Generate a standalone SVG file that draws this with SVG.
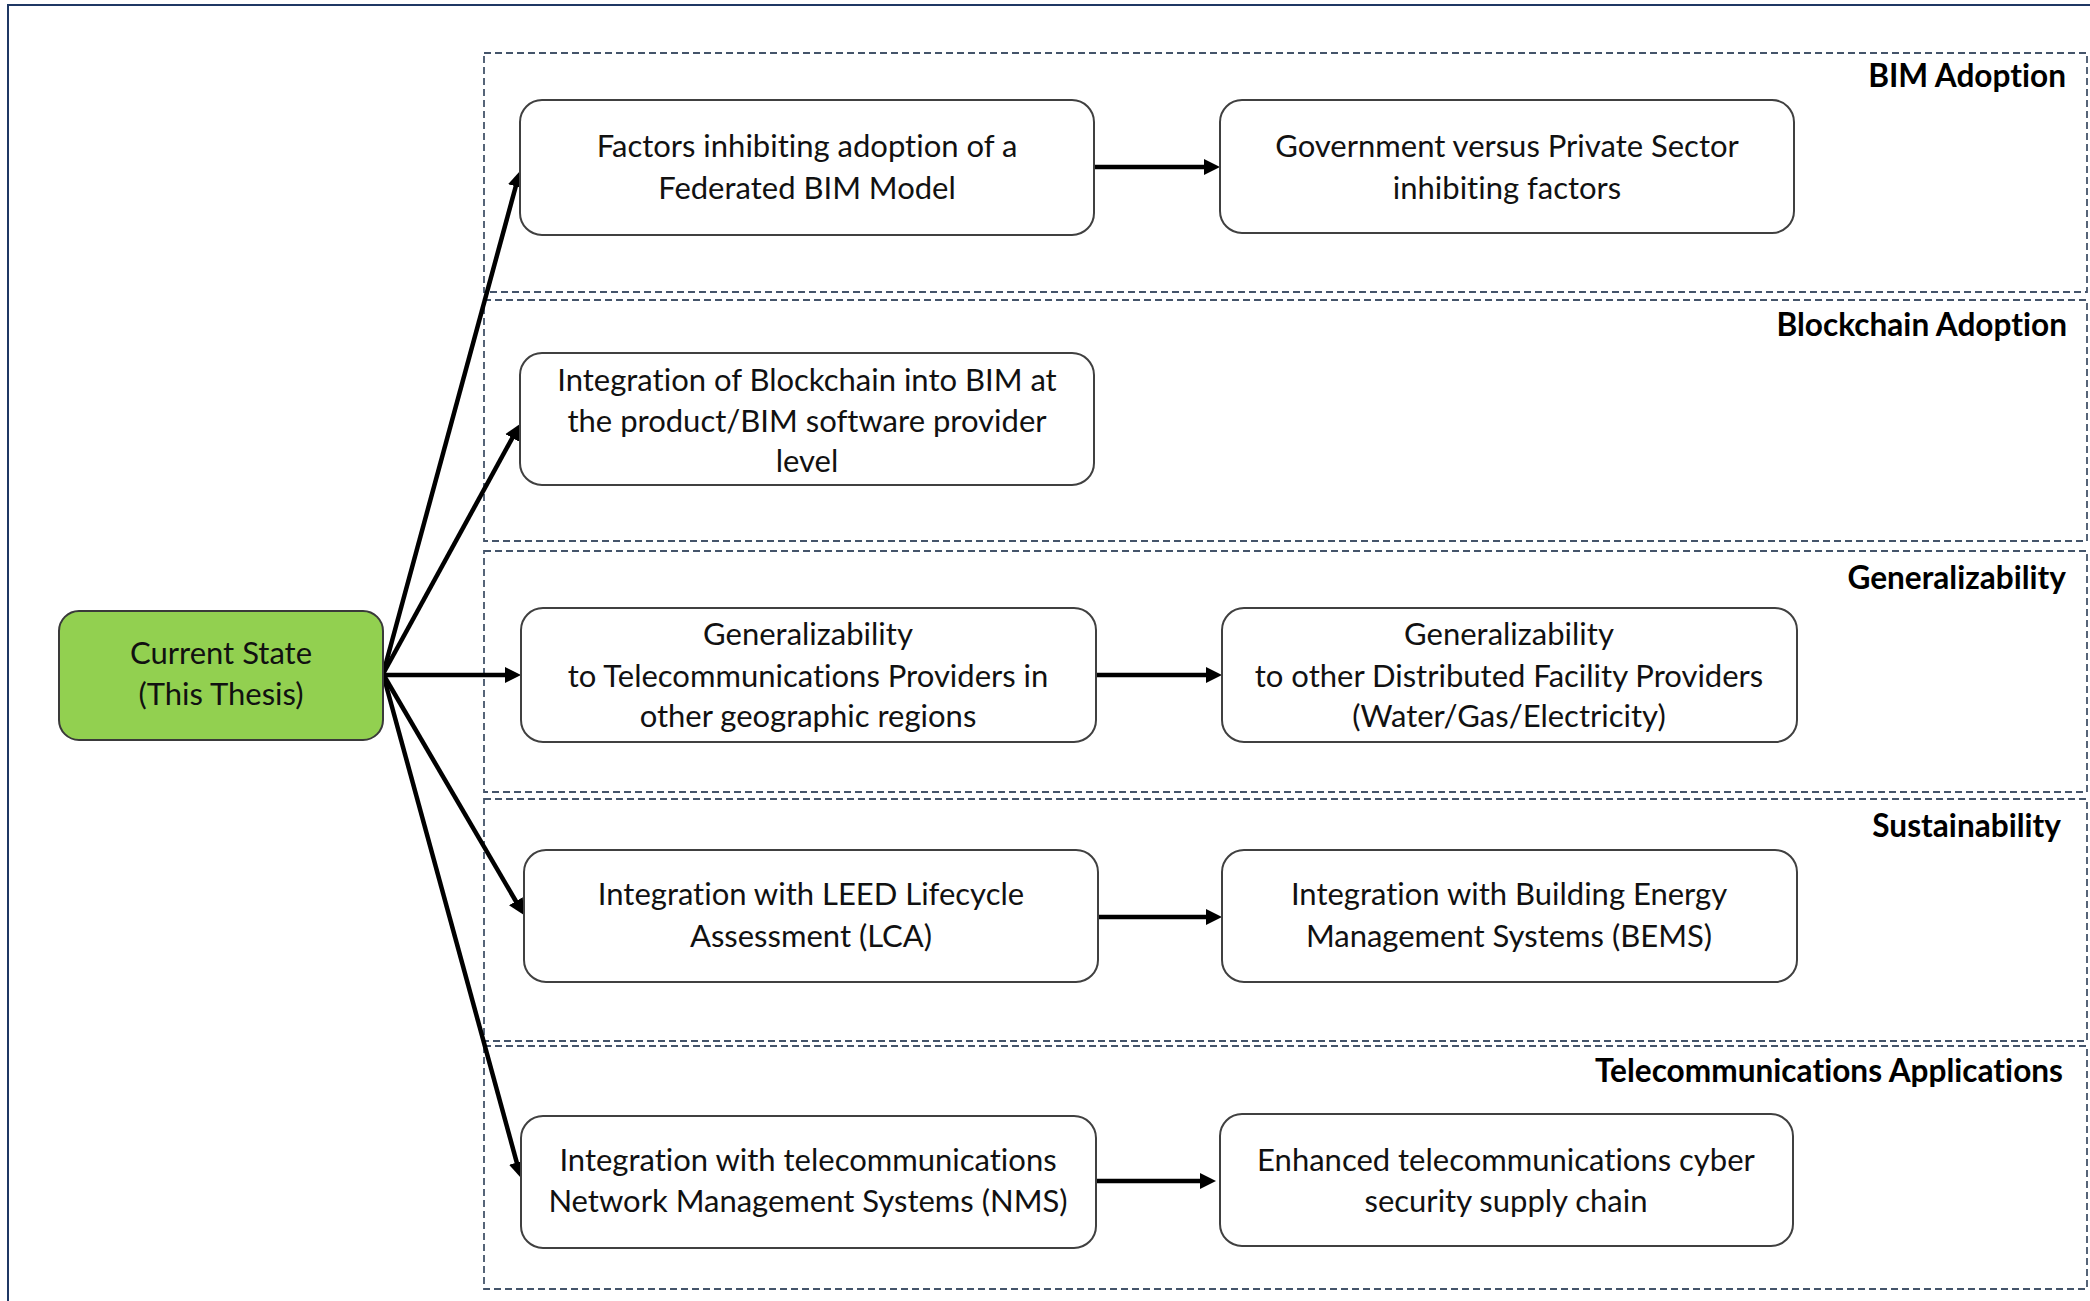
<svg xmlns="http://www.w3.org/2000/svg" width="2090" height="1301" viewBox="0 0 2090 1301">
  <style>
    .frame { fill: none; stroke: #1f3864; stroke-width: 2; }
    .section { fill: none; stroke: #44546a; stroke-width: 1.8; stroke-dasharray: 7 4; }
    .box { fill: #ffffff; stroke: #404040; stroke-width: 2; }
    .start { fill: #92d050; stroke: #3a3a3a; stroke-width: 2; }
    .txt { font-family: Lato, "Open Sans", sans-serif; font-size: 31px; fill: #111111; text-anchor: middle; font-variant-ligatures: none; }
    .lbl { font-family: Lato, "Open Sans", sans-serif; font-size: 31.6px; font-weight: bold; fill: #000000; text-anchor: end; font-variant-ligatures: none; }
    .conn { stroke: #000000; stroke-width: 4.5; fill: none; marker-end: url(#arrow); }
  </style>
  <defs>
    <marker id="arrow" markerUnits="userSpaceOnUse" markerWidth="18" markerHeight="18" refX="5" refY="9" orient="auto">
      <path d="M0,1 L16,9 L0,17 Z" fill="#000000"/>
    </marker>
  </defs>

  <rect width="2090" height="1301" fill="#ffffff"/>
  <rect class="frame" x="8" y="5" width="2110" height="1330"/>

  <!-- category bands -->
  <g id="sections">
    <rect class="section" x="484" y="53" width="1603" height="239"/>
    <rect class="section" x="484" y="300" width="1603" height="241"/>
    <rect class="section" x="484" y="551" width="1603" height="241"/>
    <rect class="section" x="484" y="799" width="1603" height="242"/>
    <rect class="section" x="484" y="1046" width="1603" height="243"/>
    <text class="lbl" x="2066" y="87">BIM Adoption</text>
    <text class="lbl" x="2067" y="336">Blockchain Adoption</text>
    <text class="lbl" x="2066" y="589">Generalizability</text>
    <text class="lbl" x="2061" y="837">Sustainability</text>
    <text class="lbl" x="2063" y="1082">Telecommunications Applications</text>
  </g>

  <!-- connectors -->
  <g id="connectors">
    <line class="conn" x1="383" y1="674" x2="517.1" y2="181.5"/>
    <line class="conn" x1="383" y1="674" x2="514.7" y2="433.6"/>
    <line class="conn" x1="383" y1="675" x2="510" y2="675"/>
    <line class="conn" x1="383" y1="674" x2="518.4" y2="905.5"/>
    <line class="conn" x1="383" y1="674" x2="518.1" y2="1167.4"/>
    <line class="conn" x1="1094" y1="167" x2="1209" y2="167"/>
    <line class="conn" x1="1096" y1="675" x2="1211" y2="675"/>
    <line class="conn" x1="1098" y1="917" x2="1211" y2="917"/>
    <line class="conn" x1="1096" y1="1181" x2="1205" y2="1181"/>
  </g>

  <g id="current-state">
    <rect class="start" x="59" y="611" width="324" height="129" rx="20"/>
    <text class="txt" x="221" y="664">Current State</text>
    <text class="txt" x="221" y="705">(This Thesis)</text>
  </g>

  <g id="federated-bim">
    <rect class="box" x="520" y="100" width="574" height="135" rx="22"/>
    <text class="txt" x="807" y="157">Factors inhibiting adoption of a</text>
    <text class="txt" x="807" y="199">Federated BIM Model</text>
  </g>

  <g id="gov-vs-private">
    <rect class="box" x="1220" y="100" width="574" height="133" rx="22"/>
    <text class="txt" x="1507" y="157">Government versus Private Sector</text>
    <text class="txt" x="1507" y="199">inhibiting factors</text>
  </g>

  <g id="blockchain-bim">
    <rect class="box" x="520" y="353" width="574" height="132" rx="22"/>
    <text class="txt" x="807" y="391">Integration of Blockchain into BIM at</text>
    <text class="txt" x="807" y="432">the product/BIM software provider</text>
    <text class="txt" x="807" y="472">level</text>
  </g>

  <g id="general-telecom">
    <rect class="box" x="521" y="608" width="575" height="134" rx="22"/>
    <text class="txt" x="808" y="645">Generalizability</text>
    <text class="txt" x="808" y="687">to Telecommunications Providers in</text>
    <text class="txt" x="808" y="727">other geographic regions</text>
  </g>

  <g id="general-utilities">
    <rect class="box" x="1222" y="608" width="575" height="134" rx="22"/>
    <text class="txt" x="1509" y="645">Generalizability</text>
    <text class="txt" x="1509" y="687">to other Distributed Facility Providers</text>
    <text class="txt" x="1509" y="727">(Water/Gas/Electricity)</text>
  </g>

  <g id="leed-lca">
    <rect class="box" x="524" y="850" width="574" height="132" rx="22"/>
    <text class="txt" x="811" y="905">Integration with LEED Lifecycle</text>
    <text class="txt" x="811" y="947">Assessment (LCA)</text>
  </g>

  <g id="bems">
    <rect class="box" x="1222" y="850" width="575" height="132" rx="22"/>
    <text class="txt" x="1509" y="905">Integration with Building Energy</text>
    <text class="txt" x="1509" y="947">Management Systems (BEMS)</text>
  </g>

  <g id="nms">
    <rect class="box" x="521" y="1116" width="575" height="132" rx="22"/>
    <text class="txt" x="808" y="1171">Integration with telecommunications</text>
    <text class="txt" x="808" y="1212">Network Management Systems (NMS)</text>
  </g>

  <g id="cyber-supply-chain">
    <rect class="box" x="1220" y="1114" width="573" height="132" rx="22"/>
    <text class="txt" x="1506" y="1171">Enhanced telecommunications cyber</text>
    <text class="txt" x="1506" y="1212">security supply chain</text>
  </g>
</svg>
